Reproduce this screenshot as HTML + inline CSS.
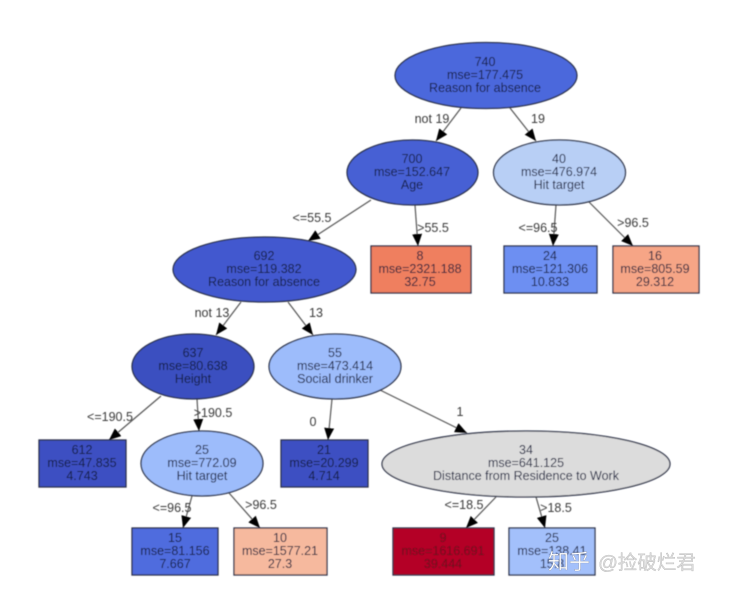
<!DOCTYPE html>
<html>
<head>
<meta charset="utf-8">
<style>
html,body{margin:0;padding:0;background:#fff;width:743px;height:589px;overflow:hidden}
svg{display:block}
text{font-family:"Liberation Sans","Noto Sans CJK SC",sans-serif;font-size:12.5px;text-anchor:middle;fill:#141a3c}
.l{fill:#3a3a3a}
.e{stroke:#555;stroke-width:1.2;fill:none;marker-end:url(#a)}
.n{stroke:#2c3148;stroke-width:1.3}
</style>
</head>
<body>
<svg width="743" height="589" viewBox="0 0 743 589" xmlns="http://www.w3.org/2000/svg">
<defs>
<marker id="a" markerUnits="userSpaceOnUse" markerWidth="13" markerHeight="11" refX="12" refY="5" orient="auto">
<path d="M0,0 L12,5 L0,10 Z" fill="#000"/>
</marker>
<filter id="b" x="-2%" y="-2%" width="104%" height="104%"><feGaussianBlur stdDeviation="0.4"/></filter>
</defs>
<g filter="url(#b)">
<line class="e" x1="461" y1="108" x2="436" y2="141"/>
<line class="e" x1="510" y1="108" x2="536" y2="141"/>
<line class="e" x1="371" y1="200" x2="308" y2="241"/>
<line class="e" x1="415" y1="205" x2="418" y2="246"/>
<line class="e" x1="556" y1="205" x2="553" y2="246"/>
<line class="e" x1="589" y1="202" x2="633" y2="246"/>
<line class="e" x1="241" y1="302" x2="216" y2="335"/>
<line class="e" x1="288" y1="302" x2="313" y2="335"/>
<line class="e" x1="161" y1="396" x2="109" y2="440"/>
<line class="e" x1="197" y1="399" x2="199" y2="431"/>
<line class="e" x1="332" y1="399" x2="328" y2="440"/>
<line class="e" x1="380" y1="390" x2="467" y2="433"/>
<line class="e" x1="192" y1="496" x2="183" y2="528"/>
<line class="e" x1="229" y1="493" x2="260" y2="528"/>
<line class="e" x1="496" y1="497" x2="466" y2="528"/>
<line class="e" x1="536" y1="497" x2="545" y2="528"/>

<ellipse class="n" cx="486" cy="75.5" rx="91" ry="33" fill="#4c68dc"/>
<text x="485" y="66">740</text><text x="485" y="79">mse=177.475</text><text x="485" y="92">Reason for absence</text>

<ellipse class="n" cx="412.5" cy="172.5" rx="65.5" ry="32.5" fill="#4660d4"/>
<text x="412" y="163">700</text><text x="412" y="176">mse=152.647</text><text x="412" y="189">Age</text>

<ellipse class="n" cx="559.5" cy="172.5" rx="66" ry="32.5" fill="#b8cff5"/>
<text x="559" y="163">40</text><text x="559" y="176">mse=476.974</text><text x="559" y="189">Hit target</text>

<rect class="n" x="371" y="246" width="100" height="47" fill="#ef7f5f"/>
<text x="420" y="260">8</text><text x="420" y="273">mse=2321.188</text><text x="420" y="286">32.75</text>

<rect class="n" x="504" y="246" width="93" height="47" fill="#6d8ff2"/>
<text x="550" y="260">24</text><text x="550" y="273">mse=121.306</text><text x="550" y="286">10.833</text>

<rect class="n" x="613" y="246" width="86" height="47" fill="#f6a586"/>
<text x="655" y="260">16</text><text x="655" y="273">mse=805.59</text><text x="655" y="286">29.312</text>

<ellipse class="n" cx="264.5" cy="269.5" rx="91.5" ry="32.5" fill="#4259cf"/>
<text x="264" y="260">692</text><text x="264" y="273">mse=119.382</text><text x="264" y="286">Reason for absence</text>

<ellipse class="n" cx="193" cy="366.5" rx="61" ry="32.5" fill="#3a4fc0"/>
<text x="193" y="357">637</text><text x="193" y="370">mse=80.638</text><text x="193" y="383">Height</text>

<ellipse class="n" cx="335" cy="366.5" rx="66" ry="32.5" fill="#9dbcfb"/>
<text x="335" y="357">55</text><text x="335" y="370">mse=473.414</text><text x="335" y="383">Social drinker</text>

<rect class="n" x="39" y="440" width="87" height="47" fill="#3c50c2"/>
<text x="82" y="454">612</text><text x="82" y="467">mse=47.835</text><text x="82" y="480">4.743</text>

<ellipse class="n" cx="202" cy="463.5" rx="61" ry="32.5" fill="#9dbcfb"/>
<text x="202" y="454">25</text><text x="202" y="467">mse=772.09</text><text x="202" y="480">Hit target</text>

<rect class="n" x="281" y="440" width="87" height="47" fill="#3c50c2"/>
<text x="324" y="454">21</text><text x="324" y="467">mse=20.299</text><text x="324" y="480">4.714</text>

<ellipse class="n" cx="526" cy="464" rx="144" ry="33" fill="#dcdcdc"/>
<text x="526" y="454">34</text><text x="526" y="467">mse=641.125</text><text x="526" y="480">Distance from Residence to Work</text>

<rect class="n" x="132" y="528" width="86" height="47" fill="#4f6cde"/>
<text x="175" y="542">15</text><text x="175" y="555">mse=81.156</text><text x="175" y="568">7.667</text>

<rect class="n" x="234" y="528" width="93" height="47" fill="#f6b99e"/>
<text x="280" y="542">10</text><text x="280" y="555">mse=1577.21</text><text x="280" y="568">27.3</text>

<rect class="n" x="393" y="528" width="101" height="47" fill="#b40426"/>
<text x="443" y="542" style="fill:#6a0a1e">9</text><text x="443" y="555" style="fill:#6a0a1e">mse=1616.691</text><text x="443" y="568" style="fill:#6a0a1e">39.444</text>

<rect class="n" x="509" y="528" width="86" height="47" fill="#a3c0fb"/>
<text x="552" y="542">25</text><text x="552" y="555">mse=138.41</text><text x="552" y="568">15.8</text>

<text class="l" x="432" y="123">not 19</text>
<text class="l" x="538" y="123">19</text>
<text class="l" x="312" y="222">&lt;=55.5</text>
<text class="l" x="433" y="232">&gt;55.5</text>
<text class="l" x="538" y="232">&lt;=96.5</text>
<text class="l" x="633" y="227">&gt;96.5</text>
<text class="l" x="212" y="317">not 13</text>
<text class="l" x="316" y="317">13</text>
<text class="l" x="110" y="421">&lt;=190.5</text>
<text class="l" x="213" y="417">&gt;190.5</text>
<text class="l" x="313" y="426">0</text>
<text class="l" x="460" y="416">1</text>
<text class="l" x="172" y="512">&lt;=96.5</text>
<text class="l" x="261" y="509">&gt;96.5</text>
<text class="l" x="464" y="509">&lt;=18.5</text>
<text class="l" x="556" y="512">&gt;18.5</text>
</g>
<text x="569" y="569" style="font-size:21px;fill:#fff;stroke:#8f96aa;stroke-width:.35">知乎</text>
<text x="647" y="569" style="font-size:19.5px;fill:#dcdcdc;stroke:#b0b0b0;stroke-width:.3">@捡破烂君</text>
</svg>
</body>
</html>
